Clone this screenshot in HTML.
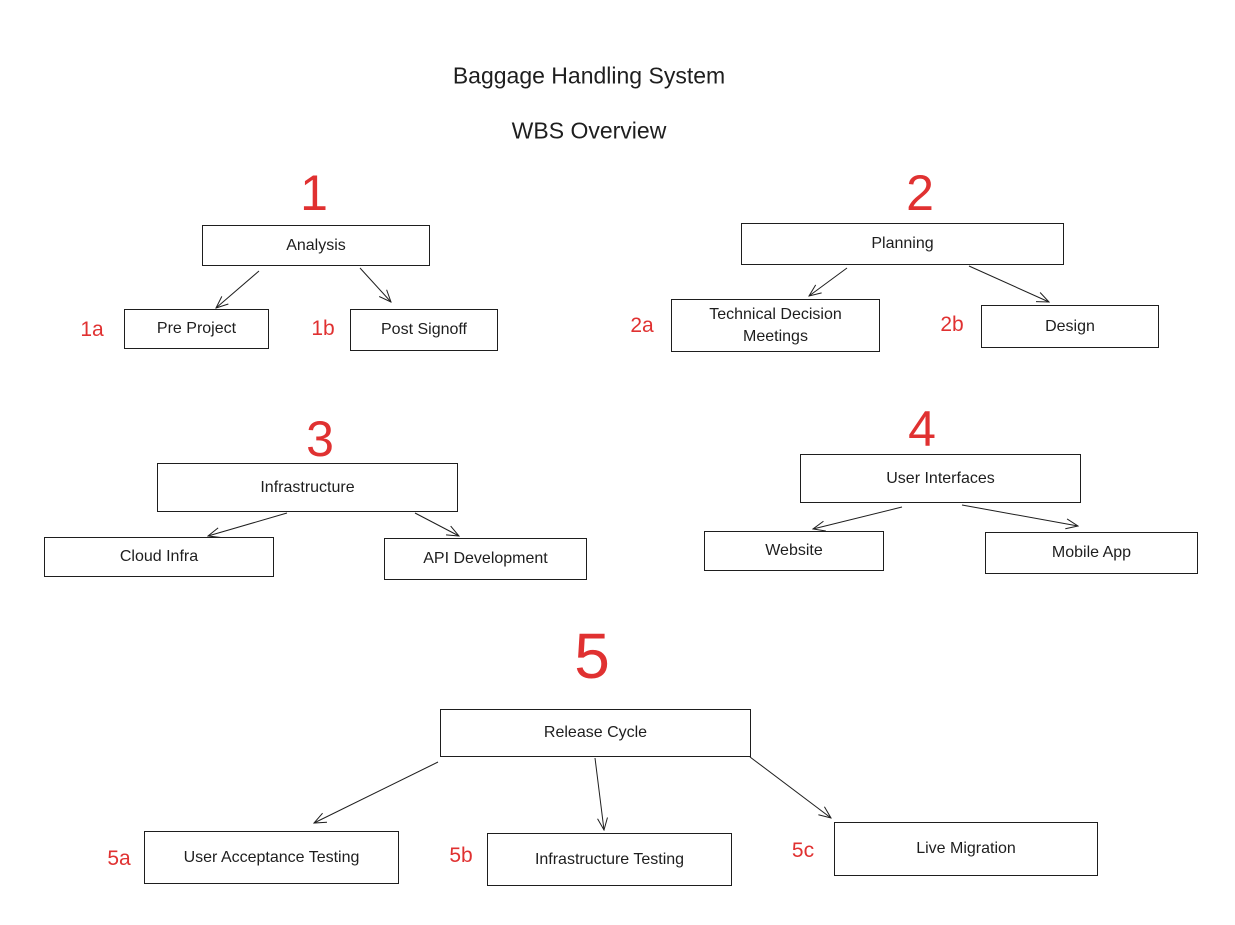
<!DOCTYPE html>
<html><head><meta charset="utf-8"><style>
body{margin:0;width:1235px;height:925px;background:#fff;position:relative;overflow:hidden;font-family:"Liberation Sans",sans-serif;color:#1e1e1e}
.b{position:absolute;border:1px solid #1e1e1e;box-sizing:border-box;display:flex;align-items:center;justify-content:center;text-align:center;font-size:16px;line-height:22px}
.t{position:absolute;transform:translate(-50%,-50%);white-space:nowrap}
.r{color:#e03131;font-size:21px}
.n{color:#e03131;font-size:50px}
</style></head><body>
<div class="t" style="left:589px;top:76px;font-size:23px">Baggage Handling System</div>
<div class="t" style="left:589px;top:131px;font-size:23px">WBS Overview</div>
<div class="t n" style="left:314px;top:193px">1</div>
<div class="t n" style="left:920px;top:193px">2</div>
<div class="t n" style="left:320px;top:439px">3</div>
<div class="t n" style="left:922px;top:429px">4</div>
<div class="t n" style="left:592px;top:656px;font-size:64px">5</div>
<div class="t r" style="left:92px;top:330px">1a</div>
<div class="t r" style="left:323px;top:329px">1b</div>
<div class="t r" style="left:642px;top:326px">2a</div>
<div class="t r" style="left:952px;top:325px">2b</div>
<div class="t r" style="left:119px;top:859px">5a</div>
<div class="t r" style="left:461px;top:856px">5b</div>
<div class="t r" style="left:803px;top:851px">5c</div>

<div class="b" style="left:202px;top:225px;width:228px;height:41px">Analysis</div>
<div class="b" style="left:124px;top:309px;width:145px;height:40px">Pre Project</div>
<div class="b" style="left:350px;top:309px;width:148px;height:42px">Post Signoff</div>
<div class="b" style="left:741px;top:223px;width:323px;height:42px">Planning</div>
<div class="b" style="left:671px;top:299px;width:209px;height:53px">Technical Decision<br>Meetings</div>
<div class="b" style="left:981px;top:305px;width:178px;height:43px">Design</div>
<div class="b" style="left:157px;top:463px;width:301px;height:49px">Infrastructure</div>
<div class="b" style="left:44px;top:537px;width:230px;height:40px">Cloud Infra</div>
<div class="b" style="left:384px;top:538px;width:203px;height:42px">API Development</div>
<div class="b" style="left:800px;top:454px;width:281px;height:49px">User Interfaces</div>
<div class="b" style="left:704px;top:531px;width:180px;height:40px">Website</div>
<div class="b" style="left:985px;top:532px;width:213px;height:42px">Mobile App</div>
<div class="b" style="left:440px;top:709px;width:311px;height:48px">Release Cycle</div>
<div class="b" style="left:144px;top:831px;width:255px;height:53px">User Acceptance Testing</div>
<div class="b" style="left:487px;top:833px;width:245px;height:53px">Infrastructure Testing</div>
<div class="b" style="left:834px;top:822px;width:264px;height:54px">Live Migration</div>

<svg width="1235" height="925" style="position:absolute;left:0;top:0">
<defs><marker id="a" markerWidth="14" markerHeight="12" refX="13" refY="6" orient="auto" markerUnits="userSpaceOnUse"><path d="M1,1 L13,6 L1,11" fill="none" stroke="#1e1e1e" stroke-width="1"/></marker></defs>
<g stroke="#1e1e1e" stroke-width="1" fill="none" marker-end="url(#a)">
<line x1="259" y1="271" x2="216" y2="308"/>
<line x1="360" y1="268" x2="391" y2="302"/>
<line x1="847" y1="268" x2="809" y2="296"/>
<line x1="969" y1="266" x2="1049" y2="302"/>
<line x1="287" y1="513" x2="208" y2="536"/>
<line x1="415" y1="513" x2="459" y2="536"/>
<line x1="902" y1="507" x2="813" y2="529"/>
<line x1="962" y1="505" x2="1078" y2="526"/>
<line x1="438" y1="762" x2="314" y2="823"/>
<line x1="595" y1="758" x2="604" y2="830"/>
<line x1="750" y1="757" x2="831" y2="818"/>
</g></svg>
</body></html>
